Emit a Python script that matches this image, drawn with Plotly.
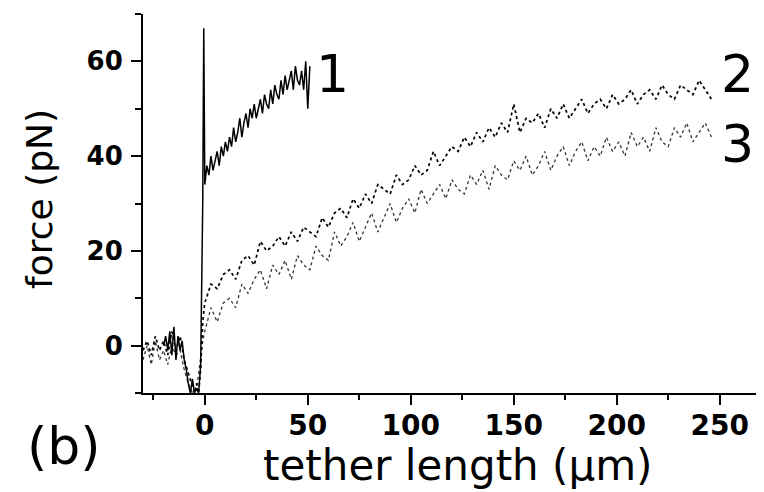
import plotly.graph_objects as go

# ---- data ----
# curve 1 (solid)
x1 = [-20, -19, -18, -17, -16, -15, -14, -13, -12, -11, -10, -9, -8, -7, -6, -5, -4, -3, -2, -1.5, -1, -0.5,
      0, 1, 2, 3, 4, 5, 6, 7, 8, 9, 10, 11, 12, 13, 14, 15, 16, 17, 18, 19, 20, 21, 22, 23, 24, 25,
      26, 27, 28, 29, 30, 31, 32, 33, 34, 35, 36, 37, 38, 39, 40, 41, 42, 43, 44, 45, 46, 47, 48, 49,
      50, 51]
y1 = [0, 2, -1, 3, -2, 4, -3, 2, -1, 1, -3, -5, -8, -10, -7, -10, -9, -10, -4, 15, 30, 67,
      34, 38, 36, 40, 37, 39, 41, 38, 42, 40, 43, 41, 44, 42, 46, 43, 45, 48, 44, 47, 49, 46, 50,
      48, 51, 48, 50, 52, 49, 53, 51, 50, 54, 51, 55, 53, 52, 56, 53, 57, 54, 56, 58, 54, 59, 56, 55,
      58, 54, 60, 50, 59]

# curve 2 (dense dots)
x2 = [-30, -28, -26, -24, -22, -20, -18, -16, -14, -12, -10, -8, -6, -5, -4, -3, -2, -1,
      0, 3, 6, 9, 12, 15, 18, 21, 24, 27, 30, 33, 36, 39, 42, 45, 48, 51, 54, 57, 60, 63, 66, 69,
      72, 75, 78, 81, 84, 87, 90, 93, 96, 99, 102, 105, 108, 111, 114, 117, 120, 123, 126, 129,
      132, 135, 138, 141, 144, 147, 150, 153, 156, 159, 162, 165, 168, 171, 174, 177, 180, 183,
      186, 189, 192, 195, 198, 201, 204, 207, 210, 213, 216, 219, 222, 225, 228, 231, 234, 237,
      240, 243, 246]
y2 = [-1, 1, -2, 2, -1, 1, -2, 3, -1, 2, -3, -6, -9, -10, -8, -10, -5, 5,
      9, 13, 12, 15, 16, 14, 18, 19, 17, 22, 20, 21, 23, 21, 24, 22, 25, 24, 23, 27, 25, 28, 29, 27,
      31, 29, 32, 30, 34, 33, 32, 36, 34, 35, 38, 36, 37, 41, 38, 40, 42, 41, 44, 42,
      45, 43, 46, 44, 47, 45, 51, 45, 48, 47, 49, 46, 50, 48, 51, 48, 50, 52,
      49, 51, 52, 50, 53, 51, 52, 54, 51, 53, 54, 52, 55, 53, 52, 55, 54, 53,
      56, 54, 52]

# curve 3 (sparse dots)
x3 = [-30, -28, -26, -24, -22, -20, -18, -16, -14, -12, -10, -8, -6, -4, -3, -2, -1,
      0, 3, 6, 9, 12, 15, 18, 21, 24, 27, 30, 33, 36, 39, 42, 45, 48, 51, 54, 57, 60, 63, 66, 69,
      72, 75, 78, 81, 84, 87, 90, 93, 96, 99, 102, 105, 108, 111, 114, 117, 120, 123, 126, 129,
      132, 135, 138, 141, 144, 147, 150, 153, 156, 159, 162, 165, 168, 171, 174, 177, 180, 183,
      186, 189, 192, 195, 198, 201, 204, 207, 210, 213, 216, 219, 222, 225, 228, 231, 234, 237,
      240, 243, 246]
y3 = [-3, 0, -4, 1, -3, -1, -4, 0, -2, -1, -5, -8, -10, -9, -6, -2, 1,
      3, 8, 5, 9, 10, 8, 13, 11, 14, 16, 12, 17, 15, 18, 14, 19, 17, 16, 21, 19, 18, 24, 21, 23,
      26, 22, 25, 28, 24, 27, 30, 26, 29, 31, 28, 33, 30, 32, 34, 31, 35, 33, 32, 36, 34,
      37, 33, 38, 36, 35, 39, 37, 40, 36, 38, 41, 37, 40, 42, 38, 41, 43, 39,
      42, 40, 44, 41, 43, 40, 45, 42, 44, 41, 46, 43, 42, 46, 44, 47, 43, 45,
      47, 44, 42]

x_ticks = [0, 50, 100, 150, 200, 250]
y_ticks = [0, 20, 40, 60]
curve_labels = ["1", "2", "3"]
label_x = [62, 258.7, 258.7]
label_y = [57.3, 57.3, 42.5]

fig = go.Figure()
fig.add_trace(go.Scatter(x=x3, y=y3, mode="lines",
                         line=dict(color="#333333", width=1.3, dash="dot"), showlegend=False))
fig.add_trace(go.Scatter(x=x2, y=y2, mode="lines",
                         line=dict(color="#000000", width=1.7, dash="dot"), showlegend=False))
fig.add_trace(go.Scatter(x=x1, y=y1, mode="lines",
                         line=dict(color="#000000", width=1.5), showlegend=False))

for t, lx, ly in zip(curve_labels, label_x, label_y):
    fig.add_annotation(x=lx, y=ly, xref="x", yref="y", text=t, showarrow=False,
                       xanchor="center", yanchor="middle",
                       font=dict(family="DejaVu Sans", size=52, color="#000000"))

fig.add_annotation(x=-0.127, y=-0.14, xref="paper", yref="paper", text="(b)", showarrow=False,
                   xanchor="center", yanchor="middle",
                   font=dict(family="DejaVu Sans", size=52, color="#000000"))

# axis titles
fig.add_annotation(x=0.507, y=-0.1926, xref="paper", yref="paper", text="tether length (μm)",
                   showarrow=False, xanchor="center", yanchor="middle",
                   font=dict(family="DejaVu Sans", size=42, color="#000000"))
fig.add_annotation(x=-0.1659, y=0.512, xref="paper", yref="paper", text="force (pN)",
                   showarrow=False, textangle=-90, xanchor="center", yanchor="middle",
                   font=dict(family="DejaVu Sans", size=36, color="#000000"))

tickfont_x = dict(family="DejaVu Sans", size=28, color="#000000", weight="bold")
tickfont_y = dict(family="DejaVu Sans", size=26, color="#000000", weight="bold")

# the page body adds an 8px offset, so the figure is 8px smaller than the window
fig.update_layout(
    width=756, height=484,
    margin=dict(l=135, r=0, t=6, b=99),
    paper_bgcolor="white", plot_bgcolor="white",
    xaxis=dict(range=[-30, 271.5], tickvals=x_ticks, ticks="outside", ticklen=10, tickwidth=2,
               tickcolor="black", showline=True, linecolor="black", linewidth=2,
               showgrid=False, zeroline=False, tickfont=tickfont_x, ticklabelstandoff=-4,
               automargin=False,
               minor=dict(dtick=25, tick0=0, ticks="outside", ticklen=5, tickwidth=2,
                          tickcolor="black", showgrid=False)),
    yaxis=dict(range=[-10, 70], tickvals=y_ticks, ticks="outside", ticklen=10, tickwidth=2,
               tickcolor="black", showline=True, linecolor="black", linewidth=2,
               showgrid=False, zeroline=False, tickfont=tickfont_y, ticklabelstandoff=3,
               automargin=False,
               minor=dict(dtick=10, tick0=0, ticks="outside", ticklen=6, tickwidth=2,
                          tickcolor="black", showgrid=False)),
)

fig.write_html("out.html")
